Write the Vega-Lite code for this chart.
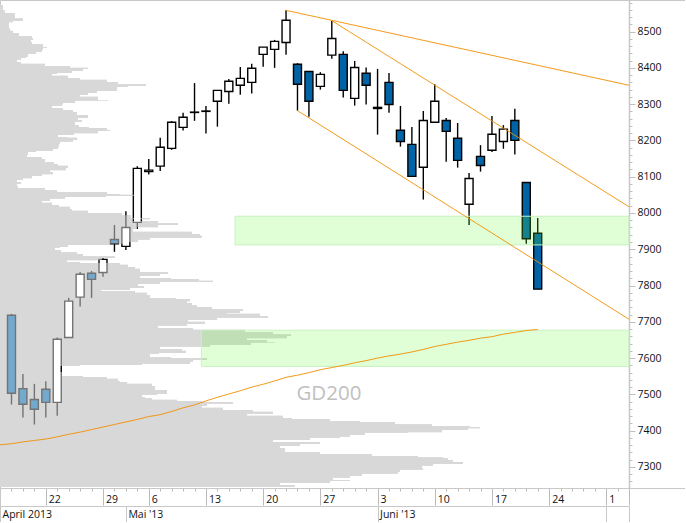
{"$schema":"https://vega.github.io/schema/vega-lite/v6.json","width":685,"height":522,"padding":0,"autosize":{"type":"none"},"background":"white","config":{"view":{"stroke":"#c8c8c8","strokeWidth":1},"font":"Open Sans"},
"datasets":{
"candles":[
{"i":0,"o":7718,"h":7722,"l":7472,"c":7503,"dir":"down"},{"i":1,"o":7516,"h":7556,"l":7436,"c":7473,"dir":"down"},{"i":2,"o":7486,"h":7529,"l":7417,"c":7459,"dir":"down"},{"i":3,"o":7514,"h":7536,"l":7436,"c":7478,"dir":"down"},{"i":4,"o":7478,"h":7657,"l":7441,"c":7652,"dir":"up"},{"i":5,"o":7657,"h":7766,"l":7657,"c":7757,"dir":"up"},{"i":6,"o":7768,"h":7837,"l":7742,"c":7831,"dir":"up"},{"i":7,"o":7834,"h":7840,"l":7766,"c":7817,"dir":"down"},{"i":8,"o":7836,"h":7875,"l":7824,"c":7872,"dir":"up"},{"i":9,"o":7927,"h":7967,"l":7893,"c":7915,"dir":"down"},{"i":10,"o":7908,"h":8005,"l":7898,"c":7960,"dir":"up"},{"i":11,"o":7974,"h":8129,"l":7956,"c":8123,"dir":"up"},{"i":12,"o":8114,"h":8149,"l":8106,"c":8118,"dir":"up"},{"i":13,"o":8129,"h":8207,"l":8116,"c":8181,"dir":"up"},{"i":14,"o":8178,"h":8253,"l":8174,"c":8250,"dir":"up"},{"i":15,"o":8236,"h":8276,"l":8227,"c":8264,"dir":"up"},{"i":16,"o":8277,"h":8358,"l":8254,"c":8278,"dir":"up"},{"i":17,"o":8280,"h":8295,"l":8219,"c":8281,"dir":"up"},{"i":18,"o":8308,"h":8338,"l":8238,"c":8338,"dir":"up"},{"i":19,"o":8335,"h":8369,"l":8301,"c":8363,"dir":"up"},{"i":20,"o":8352,"h":8402,"l":8326,"c":8371,"dir":"up"},{"i":21,"o":8360,"h":8411,"l":8329,"c":8399,"dir":"up"},{"i":22,"o":8437,"h":8457,"l":8403,"c":8457,"dir":"up"},{"i":23,"o":8451,"h":8477,"l":8400,"c":8473,"dir":"up"},{"i":24,"o":8470,"h":8559,"l":8436,"c":8531,"dir":"up"},{"i":25,"o":8410,"h":8413,"l":8282,"c":8355,"dir":"down"},{"i":26,"o":8390,"h":8390,"l":8265,"c":8308,"dir":"down"},{"i":27,"o":8349,"h":8388,"l":8340,"c":8382,"dir":"up"},{"i":28,"o":8435,"h":8530,"l":8425,"c":8481,"dir":"up"},{"i":29,"o":8437,"h":8446,"l":8318,"c":8338,"dir":"down"},{"i":30,"o":8316,"h":8419,"l":8296,"c":8401,"dir":"up"},{"i":31,"o":8385,"h":8401,"l":8299,"c":8352,"dir":"down"},{"i":32,"o":8291,"h":8397,"l":8216,"c":8288,"dir":"down"},{"i":33,"o":8360,"h":8386,"l":8276,"c":8299,"dir":"down"},{"i":34,"o":8228,"h":8295,"l":8183,"c":8197,"dir":"down"},{"i":35,"o":8189,"h":8237,"l":8101,"c":8101,"dir":"down"},{"i":36,"o":8126,"h":8281,"l":8037,"c":8255,"dir":"up"},{"i":37,"o":8250,"h":8355,"l":8250,"c":8308,"dir":"up"},{"i":38,"o":8255,"h":8262,"l":8141,"c":8225,"dir":"down"},{"i":39,"o":8206,"h":8248,"l":8125,"c":8145,"dir":"down"},{"i":40,"o":8024,"h":8110,"l":7967,"c":8095,"dir":"up"},{"i":41,"o":8156,"h":8187,"l":8114,"c":8131,"dir":"down"},{"i":42,"o":8173,"h":8267,"l":8168,"c":8217,"dir":"up"},{"i":43,"o":8197,"h":8242,"l":8177,"c":8231,"dir":"up"},{"i":44,"o":8255,"h":8287,"l":8161,"c":8200,"dir":"down"},{"i":45,"o":8084,"h":8084,"l":7915,"c":7929,"dir":"down"},{"i":46,"o":7944,"h":7986,"l":7790,"c":7790,"dir":"down"}
],
"profile":[
{"p":8573,"v":1.5},{"p":8559,"v":3},{"p":8551,"v":5},{"p":8537,"v":15},{"p":8529,"v":23},{"p":8526,"v":13},{"p":8518,"v":9},{"p":8510,"v":9},{"p":8502,"v":10},{"p":8496,"v":13},{"p":8488,"v":19},{"p":8482,"v":32},{"p":8477,"v":33},{"p":8471,"v":31},{"p":8466,"v":32},{"p":8457,"v":43},{"p":8455,"v":47},{"p":8449,"v":43},{"p":8444,"v":42},{"p":8438,"v":36},{"p":8430,"v":28},{"p":8427,"v":26},{"p":8422,"v":21},{"p":8416,"v":17},{"p":8411,"v":21},{"p":8405,"v":45},{"p":8400,"v":70},{"p":8397,"v":88},{"p":8391,"v":83},{"p":8386,"v":72},{"p":8383,"v":57},{"p":8378,"v":52},{"p":8372,"v":68},{"p":8367,"v":80},{"p":8361,"v":107},{"p":8355,"v":118},{"p":8350,"v":146},{"p":8347,"v":128},{"p":8342,"v":117},{"p":8336,"v":117},{"p":8331,"v":97},{"p":8325,"v":88},{"p":8320,"v":80},{"p":8311,"v":98},{"p":8309,"v":108},{"p":8303,"v":75},{"p":8300,"v":63},{"p":8295,"v":62},{"p":8289,"v":52},{"p":8284,"v":63},{"p":8278,"v":73},{"p":8270,"v":77},{"p":8262,"v":88},{"p":8256,"v":78},{"p":8251,"v":82},{"p":8242,"v":75},
{"p":8237,"v":79},{"p":8234,"v":89},{"p":8229,"v":107},{"p":8226,"v":110},{"p":8220,"v":98},{"p":8215,"v":74},{"p":8209,"v":58},{"p":8207,"v":68},{"p":8201,"v":77},{"p":8196,"v":73},{"p":8190,"v":60},{"p":8182,"v":59},{"p":8176,"v":58},{"p":8171,"v":53},{"p":8168,"v":36},{"p":8160,"v":28},{"p":8154,"v":27},{"p":8149,"v":42},{"p":8140,"v":45},{"p":8135,"v":54},{"p":8130,"v":58},{"p":8124,"v":68},{"p":8118,"v":66},{"p":8113,"v":50},{"p":8107,"v":53},{"p":8102,"v":42},{"p":8096,"v":32},{"p":8091,"v":23},{"p":8085,"v":17},{"p":8080,"v":21},{"p":8074,"v":17},{"p":8069,"v":18},{"p":8063,"v":45},{"p":8058,"v":57},{"p":8052,"v":107},{"p":8050,"v":120},{"p":8047,"v":135},{"p":8044,"v":106},{"p":8039,"v":65},{"p":8033,"v":50},{"p":8028,"v":42},{"p":8022,"v":52},{"p":8017,"v":59},{"p":8011,"v":70},{"p":8006,"v":72},{"p":8000,"v":88},{"p":7994,"v":122},{"p":7986,"v":131},{"p":7983,"v":150},{"p":7978,"v":132},{"p":7972,"v":158},{"p":7967,"v":178},{"p":7961,"v":158},{"p":7956,"v":137},{"p":7948,"v":133},{"p":7942,"v":192},{"p":7937,"v":200},{"p":7931,"v":202},{"p":7926,"v":150},{"p":7920,"v":138},{"p":7915,"v":128},
{"p":7912,"v":110},{"p":7906,"v":68},{"p":7904,"v":60},{"p":7898,"v":55},{"p":7892,"v":61},{"p":7887,"v":77},{"p":7881,"v":83},{"p":7876,"v":115},{"p":7870,"v":102},{"p":7865,"v":67},{"p":7862,"v":80},{"p":7857,"v":120},{"p":7851,"v":128},{"p":7846,"v":135},{"p":7837,"v":140},{"p":7832,"v":168},{"p":7826,"v":160},{"p":7821,"v":140},{"p":7818,"v":171},{"p":7813,"v":199},{"p":7810,"v":213},{"p":7804,"v":160},{"p":7799,"v":138},{"p":7793,"v":144},{"p":7788,"v":130},{"p":7785,"v":101},{"p":7780,"v":135},{"p":7774,"v":147},{"p":7766,"v":150},{"p":7763,"v":176},{"p":7757,"v":190},{"p":7752,"v":187},{"p":7746,"v":192},{"p":7741,"v":197},{"p":7735,"v":212},{"p":7730,"v":243},{"p":7724,"v":240},{"p":7722,"v":227},{"p":7716,"v":260},{"p":7711,"v":268},{"p":7705,"v":217},{"p":7700,"v":188},{"p":7694,"v":205},{"p":7689,"v":187},{"p":7683,"v":158},{"p":7678,"v":193},{"p":7672,"v":245},{"p":7666,"v":273},{"p":7661,"v":291},{"p":7655,"v":287},{"p":7650,"v":247},{"p":7644,"v":267},{"p":7642,"v":275},{"p":7636,"v":251},{"p":7631,"v":210},{"p":7625,"v":160},{"p":7620,"v":182},{"p":7614,"v":186},{"p":7611,"v":159},{"p":7603,"v":150},{"p":7600,"v":171},{"p":7595,"v":207},{"p":7589,"v":193},{"p":7584,"v":190},{"p":7581,"v":142},{"p":7578,"v":80},{"p":7573,"v":58},{"p":7562,"v":60},{"p":7551,"v":62},{"p":7548,"v":83},{"p":7543,"v":107},{"p":7537,"v":118},{"p":7534,"v":120},{"p":7529,"v":127},{"p":7523,"v":152},{"p":7518,"v":155},{"p":7512,"v":155},{"p":7507,"v":167},{"p":7501,"v":167},{"p":7498,"v":157},{"p":7493,"v":142},{"p":7490,"v":145},{"p":7485,"v":152},{"p":7482,"v":177},{"p":7479,"v":202},{"p":7474,"v":233},{"p":7468,"v":207},{"p":7463,"v":202},{"p":7457,"v":223},{"p":7452,"v":253},{"p":7446,"v":273},{"p":7441,"v":247},{"p":7435,"v":283},{"p":7432,"v":292},{"p":7427,"v":330},{"p":7424,"v":360},{"p":7418,"v":395},{"p":7413,"v":432},{"p":7410,"v":470},{"p":7407,"v":480},{"p":7402,"v":468},{"p":7396,"v":442},{"p":7394,"v":408},{"p":7388,"v":365},{"p":7383,"v":350},{"p":7380,"v":340},{"p":7374,"v":310},{"p":7369,"v":273},{"p":7363,"v":320},{"p":7358,"v":300},{"p":7352,"v":280},{"p":7347,"v":285},{"p":7341,"v":285},{"p":7336,"v":320},{"p":7330,"v":372},{"p":7327,"v":418},{"p":7325,"v":443},{"p":7319,"v":448},{"p":7314,"v":453},{"p":7308,"v":463},{"p":7303,"v":433},{"p":7297,"v":422},{"p":7292,"v":423},{"p":7286,"v":400},{"p":7281,"v":398},{"p":7275,"v":362},{"p":7270,"v":350},{"p":7264,"v":333},{"p":7261,"v":350},{"p":7256,"v":330},{"p":7250,"v":280},{"p":7245,"v":295},{"p":7242,"v":0}
],
"lines":[
{"s":"a","i":24,"p":8558.5},{"s":"a","i":53.98,"p":8352},{"s":"b","i":28,"p":8530},{"s":"b","i":53.98,"p":8017},{"s":"c","i":25,"p":8282},{"s":"c","i":53.98,"p":7707},
{"s":"gd200","i":-1,"p":7361},{"s":"gd200","i":0,"p":7364},{"s":"gd200","i":1,"p":7369},{"s":"gd200","i":2,"p":7373},{"s":"gd200","i":3,"p":7377},{"s":"gd200","i":4,"p":7383},{"s":"gd200","i":5,"p":7390},{"s":"gd200","i":6,"p":7396},{"s":"gd200","i":7,"p":7403},{"s":"gd200","i":8,"p":7410},{"s":"gd200","i":9,"p":7417},{"s":"gd200","i":10,"p":7424},{"s":"gd200","i":11,"p":7431},{"s":"gd200","i":12,"p":7439},{"s":"gd200","i":13,"p":7444},{"s":"gd200","i":14,"p":7453},{"s":"gd200","i":15,"p":7463},{"s":"gd200","i":16,"p":7471},{"s":"gd200","i":17,"p":7482},{"s":"gd200","i":18,"p":7492},{"s":"gd200","i":19,"p":7501},{"s":"gd200","i":20,"p":7510},{"s":"gd200","i":21,"p":7520},{"s":"gd200","i":22,"p":7528},{"s":"gd200","i":23,"p":7537},{"s":"gd200","i":24,"p":7547},{"s":"gd200","i":25,"p":7553},{"s":"gd200","i":26,"p":7560},{"s":"gd200","i":27,"p":7568},{"s":"gd200","i":28,"p":7574},{"s":"gd200","i":29,"p":7580},{"s":"gd200","i":30,"p":7587},{"s":"gd200","i":31,"p":7593},{"s":"gd200","i":32,"p":7600},{"s":"gd200","i":33,"p":7606},{"s":"gd200","i":34,"p":7611},{"s":"gd200","i":35,"p":7617},{"s":"gd200","i":36,"p":7624},{"s":"gd200","i":37,"p":7632},{"s":"gd200","i":38,"p":7638},{"s":"gd200","i":39,"p":7644},{"s":"gd200","i":40,"p":7649},{"s":"gd200","i":41,"p":7655},{"s":"gd200","i":42,"p":7659},{"s":"gd200","i":43,"p":7666},{"s":"gd200","i":44,"p":7671},{"s":"gd200","i":45,"p":7676},{"s":"gd200","i":46,"p":7679}
]},
"layer":[
{"data":{"name":"profile"},"mark":{"type":"area","orient":"horizontal","interpolate":"step-after","color":"#b8b8b8"},
"encoding":{"x":{"field":"v","type":"quantitative","stack":null,"scale":{"domain":[0,629],"range":[0,629]},"axis":null},
"y":{"field":"p","type":"quantitative","scale":{"domain":[7242,8587],"range":[488,0]},"axis":{"orient":"right","offset":-56,"title":null,"values":[7260,7280,7320,7340,7360,7380,7420,7440,7460,7480,7520,7540,7560,7580,7620,7640,7660,7680,7720,7740,7760,7780,7820,7840,7860,7880,7920,7940,7960,7980,8020,8040,8060,8080,8120,8140,8160,8180,8220,8240,8260,8280,8320,8340,8360,8380,8420,8440,8460,8480,8520,8540,8560,8580],"labels":false,"domain":true,"domainColor":"#c8c8c8","domainWidth":1.5,"ticks":true,"tickColor":"#c0c0c0","tickSize":3,"grid":false}}}},
{"data":{"name":"candles"},"mark":{"type":"rule","color":"black","strokeWidth":1.4},
"encoding":{"x":{"field":"i","type":"quantitative","scale":{"domain":[-1.005,53.98],"range":[0,629]},"axis":{"orient":"bottom","offset":-34,"title":null,"values":[3,8,12,17,22,27,32,37,42,47,52,53.98],"labelExpr":"({3:'22',8:'29',12:'6',17:'13',22:'20',27:'27',32:'3',37:'10',42:'17',47:'24',52:'1'})[datum.value]||''","labelAlign":"left","labelBaseline":"middle","labelOffset":2.5,"labelPadding":-6,"labelFontSize":10.5,"labelColor":"#111","labelOverlap":false,"labelFlush":false,"labelBound":false,"domain":false,"ticks":true,"tickSize":17,"tickColor":"#bbbbbb","grid":false}},
"y":{"field":"l","type":"quantitative","scale":{"domain":[7242,8587],"range":[488,0]},"axis":{"orient":"right","offset":-56,"title":null,"values":[7300,7400,7500,7600,7700,7800,7900,8000,8100,8200,8300,8400,8500],"format":"d","labelAlign":"left","labelBaseline":"middle","labelPadding":2,"labelFontSize":10.5,"labelColor":"#111","labelOverlap":false,"labelBound":false,"labelFlush":false,"domain":false,"ticks":true,"tickColor":"#c0c0c0","tickSize":6,"grid":false}},
"y2":{"field":"h"}}},
{"data":{"name":"candles"},"mark":{"type":"bar","size":8,"stroke":"black","strokeWidth":1.4},
"encoding":{"x":{"field":"i","type":"quantitative","scale":{"domain":[-1.005,53.98],"range":[0,629],"padding":0},"axis":{"orient":"bottom","offset":-34,"title":null,"values":[0,1,2,3,4,5,6,7,8,9,10,11,12,13,14,15,16,17,18,19,20,21,22,23,24,25,26,27,28,29,30,31,32,33,34,35,36,37,38,39,40,41,42,43,44,45,46,47,48,49,50,51,52,53],"labels":false,"domain":false,"ticks":true,"tickSize":3,"tickColor":"#bbbbbb","grid":false}},
"y":{"field":"o","type":"quantitative","scale":{"domain":[7242,8587],"range":[488,0]},"axis":null},
"y2":{"field":"c"},
"color":{"field":"dir","type":"nominal","scale":{"domain":["up","down"],"range":["#ffffff","#0063a5"]},"legend":null}}},
{"data":{"name":"profile"},"mark":{"type":"area","orient":"horizontal","interpolate":"step-after","color":"#ffffff","opacity":0.45},
"encoding":{"x":{"field":"v","type":"quantitative","stack":null,"scale":{"domain":[0,629],"range":[0,629]},"axis":null},
"y":{"field":"p","type":"quantitative","scale":{"domain":[7242,8587],"range":[488,0]},"axis":null}}},
{"data":{"values":[{"zone":"upper","from":19.54,"to":53.98,"lo":7912,"hi":7991},{"zone":"lower","from":16.6,"to":53.98,"lo":7577,"hi":7677}]},"mark":{"type":"rect","fill":"#66ff33","fillOpacity":0.2,"stroke":"#c8f2c0","strokeWidth":1},
"encoding":{"x":{"field":"from","type":"quantitative","scale":{"domain":[-1.005,53.98],"range":[0,629]},"axis":{"orient":"bottom","offset":-16,"title":null,"values":[-1.005,10,32,52,53.98],"labelExpr":"datum.value<0?'April 2013':datum.value==10?\"Mai '13\":datum.value==32?\"Juni '13\":''","labelAlign":"left","labelBaseline":"middle","labelOffset":2,"labelPadding":-7.5,"labelFontSize":10.5,"labelColor":"#111","labelOverlap":false,"labelFlush":false,"labelBound":false,"domain":true,"domainColor":"#c8c8c8","domainWidth":1,"ticks":true,"tickSize":16,"tickColor":"#c8c8c8","grid":false}},
"x2":{"field":"to"},
"y":{"field":"lo","type":"quantitative","scale":{"domain":[7242,8587],"range":[488,0]},"axis":null},"y2":{"field":"hi"}}},
{"data":{"name":"lines"},"mark":{"type":"line","color":"#f28e00","strokeWidth":0.9,"clip":false},
"encoding":{"x":{"field":"i","type":"quantitative","scale":{"domain":[-1.005,53.98],"range":[0,629]},"axis":null},
"y":{"field":"p","type":"quantitative","scale":{"domain":[7242,8587],"range":[488,0]},"axis":null},"detail":{"field":"s"}}},
{"data":{"values":[{"i":27.75,"p":7501,"label":"GD200"}]},"mark":{"type":"text","fontSize":20.5,"color":"#c0c0c0","align":"center","baseline":"middle","font":"Open Sans"},
"encoding":{"x":{"field":"i","type":"quantitative","scale":{"domain":[-1.005,58.88],"range":[0,685]},"axis":{"orient":"bottom","offset":-34,"title":null,"labels":false,"ticks":false,"domain":true,"domainColor":"#c8c8c8","domainWidth":1,"grid":false}},
"y":{"field":"p","type":"quantitative","scale":{"domain":[7242,8587],"range":[488,0]},"axis":null},"text":{"field":"label"}}}
],
"resolve":{"scale":{"x":"independent","y":"independent"}}}
